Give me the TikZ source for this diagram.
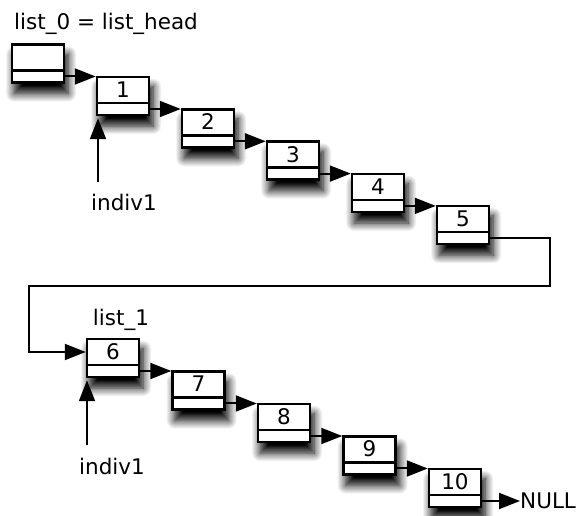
\documentclass[tikz,border=0pt]{standalone}
\usepackage{fontspec}
\setmainfont{DejaVu Sans}
\usetikzlibrary{arrows.meta,shadows.blur}

\tikzset{
  cell/.style={draw, fill=white, line width=2.5pt, inner sep=0pt,
    minimum width=52pt, text height=20.5pt, text depth=17.5pt,
    path picture={\draw[line width=2.5pt]
      ([yshift=-7pt]path picture bounding box.west) --
      ([yshift=-7pt]path picture bounding box.east);},
    blur shadow={shadow xshift=3pt, shadow yshift=-10pt, shadow scale=1.04,
      shadow blur radius=8pt, shadow opacity=100, shadow blur steps=12}},
  link/.style={line width=2pt, -{Triangle[length=21pt,width=16pt]}},
  lbl/.style={inner sep=0pt},
}

\begin{document}
\begin{tikzpicture}[x=1pt, y=1pt, font=\fontsize{21.5}{26}\selectfont]
    \useasboundingbox (0,0) rectangle (582,515);
    % The list head and the first five cells.
        \node[lbl, anchor=base west] (t0) at (14,485) {list\_0 = list\_head};
        \node[cell] (h) at (38,451.5) {};
        \node[cell] (b1) at (123,419) {1};
        \node[cell] (b2) at (208,386.7) {2};
        \node[cell] (b3) at (293,354.4) {3};
        \node[cell] (b4) at (378,322.1) {4};
        \node[cell] (b5) at (463,289.8) {5};
    % The second half of the list.
        \node[lbl, anchor=base] (t1) at (121,189) {list\_1};
        \node[cell] (b6) at (113,157) {6};
        \node[cell] (b7) at (198.5,124.5) {7};
        \node[cell] (b8) at (284,92) {8};
        \node[cell] (b9) at (369.5,59.5) {9};
        \node[cell] (b10) at (455,27) {10};
        \node[lbl, anchor=west] (null) at (520,14) {NULL};
    % Pointer labels.
        \node[lbl, anchor=base] (i1) at (124,304) {indiv1};
        \node[lbl, anchor=base] (i2) at (112,41) {indiv1};
        \coordinate (p1) at (98,333);
        \coordinate (p2) at (87,70);
        \coordinate (c1) at (550,229);
        \coordinate (c2) at (29,229);
    % Links from cell to cell.
        \draw[link] ([yshift=-13pt]h.east) -- ([yshift=-13pt]h.east -| b1.west);
        \draw[link] ([yshift=-13pt]b1.east) -- ([yshift=-13pt]b1.east -| b2.west);
        \draw[link] ([yshift=-13pt]b2.east) -- ([yshift=-13pt]b2.east -| b3.west);
        \draw[link] ([yshift=-13pt]b3.east) -- ([yshift=-13pt]b3.east -| b4.west);
        \draw[link] ([yshift=-13pt]b4.east) -- ([yshift=-13pt]b4.east -| b5.west);
        \draw[link] ([yshift=-13pt]b5.east) -| (c1) -- (c2) |- ([yshift=6pt]b6.west);
        \draw[link] ([yshift=-13pt]b6.east) -- ([yshift=-13pt]b6.east -| b7.west);
        \draw[link] ([yshift=-13pt]b7.east) -- ([yshift=-13pt]b7.east -| b8.west);
        \draw[link] ([yshift=-13pt]b8.east) -- ([yshift=-13pt]b8.east -| b9.west);
        \draw[link] ([yshift=-13pt]b9.east) -- ([yshift=-13pt]b9.east -| b10.west);
        \draw[link] ([yshift=-13pt]b10.east) -- (null.west);
    % The indiv1 pointers.
        \draw[link, shorten >=2pt] (p1) -- (p1 |- b1.south);
        \draw[link, shorten >=2pt] (p2) -- (p2 |- b6.south);
\end{tikzpicture}
\end{document}
